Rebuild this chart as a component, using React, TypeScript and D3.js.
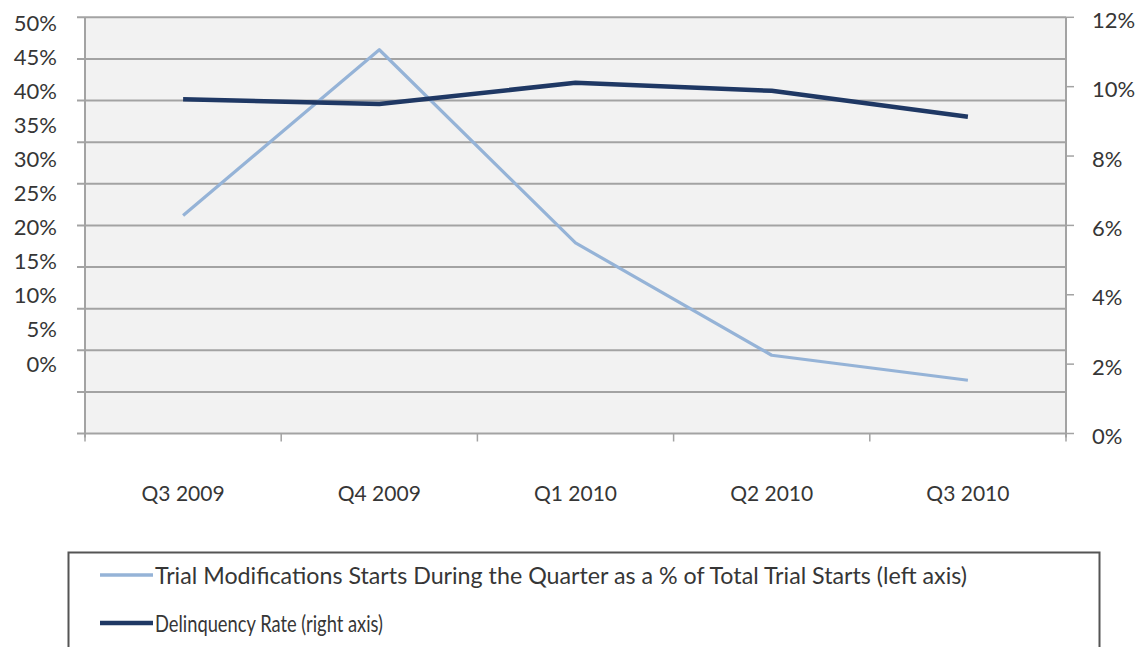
import React from "react";
import * as d3 from "d3";

// Quarter categories and the two series plotted against them
const quarters = ["Q3 2009", "Q4 2009", "Q1 2010", "Q2 2010", "Q3 2010"];
const trialStartShare = [26.2, 46.1, 22.9, 9.4, 6.4]; // % of total trial starts (left axis)
const delinquencyRate = [9.64, 9.5, 10.11, 9.88, 9.13]; // % (right axis)

const leftTicks = [0, 5, 10, 15, 20, 25, 30, 35, 40, 45, 50];
const rightTicks = [0, 2, 4, 6, 8, 10, 12];

const legendItems = [
  { label: "Trial Modifications Starts During the Quarter as a % of Total Trial Starts (left axis)", color: "#95b3d7", width: 3.5, textLen: 812 },
  { label: "Delinquency Rate (right axis)", color: "#1f3864", width: 4.5, textLen: 228 },
];

const W = 1142;
const H = 647;
const plot = { left: 85, right: 1066, top: 17.3, bottom: 433.5 };
const FONT = "Lato, 'Open Sans', sans-serif";
const TEXT = "#363636";
const GRID = "#a3a3a3";

export default function App() {
  const x = d3.scaleBand<string>().domain(quarters).range([plot.left, plot.right]);
  const cx = (q: string) => (x(q) as number) + x.bandwidth() / 2;
  const yLeft = d3.scaleLinear().domain([0, 50]).range([plot.bottom, plot.top]);
  const yRight = d3.scaleLinear().domain([0, 12]).range([plot.bottom, plot.top]);
  // left-axis label column sits in its own tighter band
  const yLeftLabel = d3.scaleLinear().domain([0, 50]).range([363, 22]);

  const trialLine = d3
    .line<number>()
    .x((_, i) => cx(quarters[i]))
    .y((d) => yLeft(d));
  const delinqLine = d3
    .line<number>()
    .x((_, i) => cx(quarters[i]))
    .y((d) => yRight(d));

  const boundaries = [...quarters.map((q) => x(q) as number), plot.right];

  return (
    <div style={{ position: "absolute", left: 0, top: 0 }}>
      <svg width={W} height={H} style={{ display: "block", background: "#fff" }}>
        {/* plot area */}
        <rect
          x={plot.left}
          y={plot.top}
          width={plot.right - plot.left}
          height={plot.bottom - plot.top}
          fill="#f2f2f2"
        />
        {/* horizontal gridlines with left ticks */}
        {leftTicks.map((t) => (
          <line
            key={"g" + t}
            x1={plot.left - 8}
            x2={plot.right}
            y1={yLeft(t)}
            y2={yLeft(t)}
            stroke={GRID}
            strokeWidth={2}
          />
        ))}
        {/* axis lines */}
        <line x1={plot.left} x2={plot.left} y1={plot.top} y2={plot.bottom + 4} stroke={GRID} strokeWidth={2} />
        <line x1={plot.right} x2={plot.right} y1={plot.top} y2={plot.bottom + 4} stroke={GRID} strokeWidth={2} />
        {/* right ticks */}
        {rightTicks.map((t) => (
          <line
            key={"rt" + t}
            x1={plot.right}
            x2={plot.right + 8}
            y1={yRight(t)}
            y2={yRight(t)}
            stroke={GRID}
            strokeWidth={1.5}
          />
        ))}
        {/* category ticks */}
        {boundaries.map((b, i) => (
          <line key={"xt" + i} x1={b} x2={b} y1={plot.bottom} y2={plot.bottom + 8} stroke={GRID} strokeWidth={1.5} />
        ))}

        {/* series */}
        <path d={trialLine(trialStartShare) || ""} fill="none" stroke="#95b3d7" strokeWidth={3.2} strokeLinejoin="round" />
        <path d={delinqLine(delinquencyRate) || ""} fill="none" stroke="#1f3864" strokeWidth={4.5} strokeLinejoin="round" />

        {/* left axis labels */}
        {leftTicks.map((t) => (
          <text
            key={"ll" + t}
            x={57}
            y={yLeftLabel(t)}
            textAnchor="end"
            dominantBaseline="central"
            fontFamily={FONT}
            fontSize={22}
            fill={TEXT}
          >
            {t}%
          </text>
        ))}
        {/* right axis labels */}
        {rightTicks.map((t) => (
          <text
            key={"rl" + t}
            x={1092}
            y={yRight(t) + 2}
            textAnchor="start"
            dominantBaseline="central"
            fontFamily={FONT}
            fontSize={22}
            fill={TEXT}
          >
            {t}%
          </text>
        ))}
        {/* category labels */}
        {quarters.map((q) => (
          <text
            key={"xl" + q}
            x={cx(q)}
            y={492}
            textAnchor="middle"
            dominantBaseline="central"
            fontFamily={FONT}
            fontSize={21}
            fill={TEXT}
          >
            {q}
          </text>
        ))}

        {/* legend */}
        <rect x={68.5} y={552.5} width={1031} height={110} fill="#fff" stroke="#555" strokeWidth={2} />
        {legendItems.map((item, i) => {
          const ly = 575 + i * 48;
          return (
            <g key={"lg" + i}>
              <line x1={100} x2={153} y1={ly} y2={ly} stroke={item.color} strokeWidth={item.width} />
              <text
                x={155}
                y={ly}
                dominantBaseline="central"
                fontFamily={FONT}
                fontSize={23}
                fill={TEXT}
                textLength={item.textLen}
                lengthAdjust="spacingAndGlyphs"
              >
                {item.label}
              </text>
            </g>
          );
        })}
      </svg>
    </div>
  );
}
